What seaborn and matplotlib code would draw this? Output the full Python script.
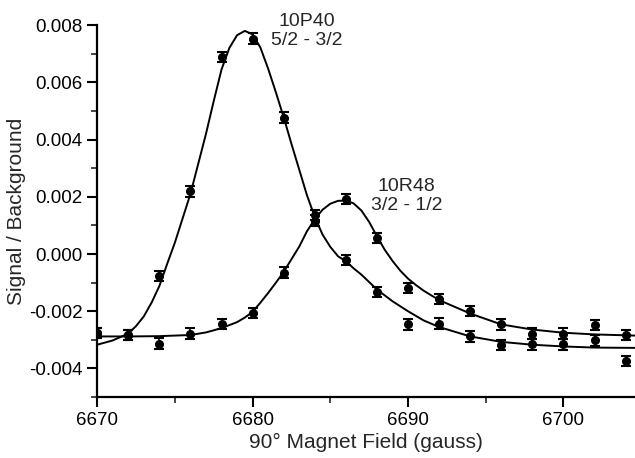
import matplotlib
matplotlib.use("Agg")
import matplotlib.pyplot as plt
import pandas as pd
import seaborn as sns
from matplotlib.ticker import MultipleLocator, FormatStrFormatter

# measured points (field in gauss, signal/background)
field_pts = [6670, 6672, 6674, 6676, 6678, 6680, 6682, 6684, 6686, 6688,
             6690, 6692, 6694, 6696, 6698, 6700, 6702, 6704]
p40_pts = [-0.00276, -0.00284, -0.00077, 0.00219, 0.00690, 0.00753, 0.00477,
           0.00117, -0.00021, -0.00132, -0.00246, -0.00243, -0.00288, -0.00317,
           -0.00316, -0.00316, -0.00302, -0.00374]
r48_pts = [-0.00276, -0.00284, -0.00313, -0.00278, -0.00245, -0.00206, -0.00065,
           0.00137, 0.00193, 0.00057, -0.00118, -0.00158, -0.00200, -0.00246,
           -0.00278, -0.00278, -0.00249, -0.00284]
err = 0.00018

# fitted curves
p40_fit_x = [6670, 6671, 6672, 6672.5, 6673, 6673.5, 6674, 6674.5, 6675, 6675.5,
             6676, 6676.5, 6677, 6677.5, 6678, 6678.5, 6679, 6679.5, 6680, 6680.5,
             6681, 6681.5, 6682, 6682.5, 6683, 6683.5, 6684, 6684.5, 6685,
             6685.5, 6686, 6686.5, 6687, 6688, 6689, 6690, 6691, 6692, 6694,
             6696, 6698, 6700, 6702, 6704.6]
p40_fit = [-0.00317, -0.00302, -0.00278, -0.00252, -0.00218, -0.00170, -0.00112,
           -0.00035, 0.00040, 0.00125, 0.00210, 0.00315, 0.00420, 0.00535, 0.00645,
           0.00720, 0.00765, 0.00780, 0.00768, 0.00722, 0.00648, 0.00565, 0.00478,
           0.00385, 0.00295, 0.00205, 0.00130, 0.00068, 0.00025, -0.00008,
           -0.00025, -0.00050, -0.00072, -0.00124, -0.00165, -0.00200, -0.00232,
           -0.00255, -0.00288, -0.00307, -0.00317, -0.00323, -0.00327, -0.00328]
r48_fit_x = [6670, 6672, 6674, 6676, 6677, 6678, 6679, 6679.5, 6680, 6680.5,
             6681, 6681.5, 6682, 6682.5, 6683, 6683.5, 6684, 6684.5, 6685,
             6685.5, 6686, 6686.5, 6687, 6687.5, 6688, 6688.5, 6689, 6689.5,
             6690, 6690.5, 6691, 6692, 6694, 6696, 6698, 6700, 6702, 6704.6]
r48_fit = [-0.00288, -0.00288, -0.00287, -0.00283, -0.00274, -0.00259, -0.00238,
           -0.00222, -0.00202, -0.00170, -0.00136, -0.00100, -0.00062, -0.00018,
           0.00026, 0.00080, 0.00122, 0.00155, 0.00176, 0.00186, 0.00187, 0.00177,
           0.00152, 0.00112, 0.00062, 0.00015, -0.00024, -0.00058, -0.00086,
           -0.00108, -0.00128, -0.00161, -0.00208, -0.00246, -0.00264, -0.00275,
           -0.00281, -0.00285]

sns.set_style("ticks")
plt.rcParams["font.family"] = ["Liberation Sans", "DejaVu Sans"]

fig = plt.figure(figsize=(6.35, 4.58), dpi=100)
ax = fig.add_axes([0.153, 0.133, 0.847, 0.812])

p40_df = pd.DataFrame({"field": p40_fit_x, "signal": p40_fit})
r48_df = pd.DataFrame({"field": r48_fit_x, "signal": r48_fit})
sns.lineplot(data=p40_df, x="field", y="signal", color="black", lw=1.4, ax=ax)
sns.lineplot(data=r48_df, x="field", y="signal", color="black", lw=1.4, ax=ax)

for vals in (p40_pts, r48_pts):
    ax.errorbar(field_pts, vals, yerr=err, fmt="o", color="black", ms=5.5,
                elinewidth=1.2, capsize=3.5, capthick=1.5, zorder=3)

ax.text(6683.5, 0.00781, "10P40\n5/2 - 3/2", ha="center", va="center",
        fontsize=14, linespacing=1.15)
ax.text(6689.9, 0.00202, "10R48\n3/2 - 1/2", ha="center", va="center",
        fontsize=14, linespacing=1.15)

ax.set_xlim(6670, 6704.6)
ax.set_ylim(-0.005, 0.008)
ax.xaxis.set_major_locator(MultipleLocator(10))
ax.xaxis.set_minor_locator(MultipleLocator(5))
ax.yaxis.set_major_locator(MultipleLocator(0.002))
ax.yaxis.set_minor_locator(MultipleLocator(0.001))
ax.yaxis.set_major_formatter(FormatStrFormatter("%.3f"))
ax.tick_params(which="major", length=7, width=1.5, labelsize=13.5,
               direction="out", colors="black")
ax.tick_params(which="minor", length=4, width=1.2, direction="out")
ax.set_xlabel("90° Magnet Field (gauss)", fontsize=15, labelpad=3)
ax.set_ylabel("Signal / Background", fontsize=15, labelpad=2)

sns.despine(ax=ax)
for side in ("left", "bottom"):
    ax.spines[side].set_linewidth(1.6)
    ax.spines[side].set_color("black")

fig.savefig("out.png", dpi=100)
